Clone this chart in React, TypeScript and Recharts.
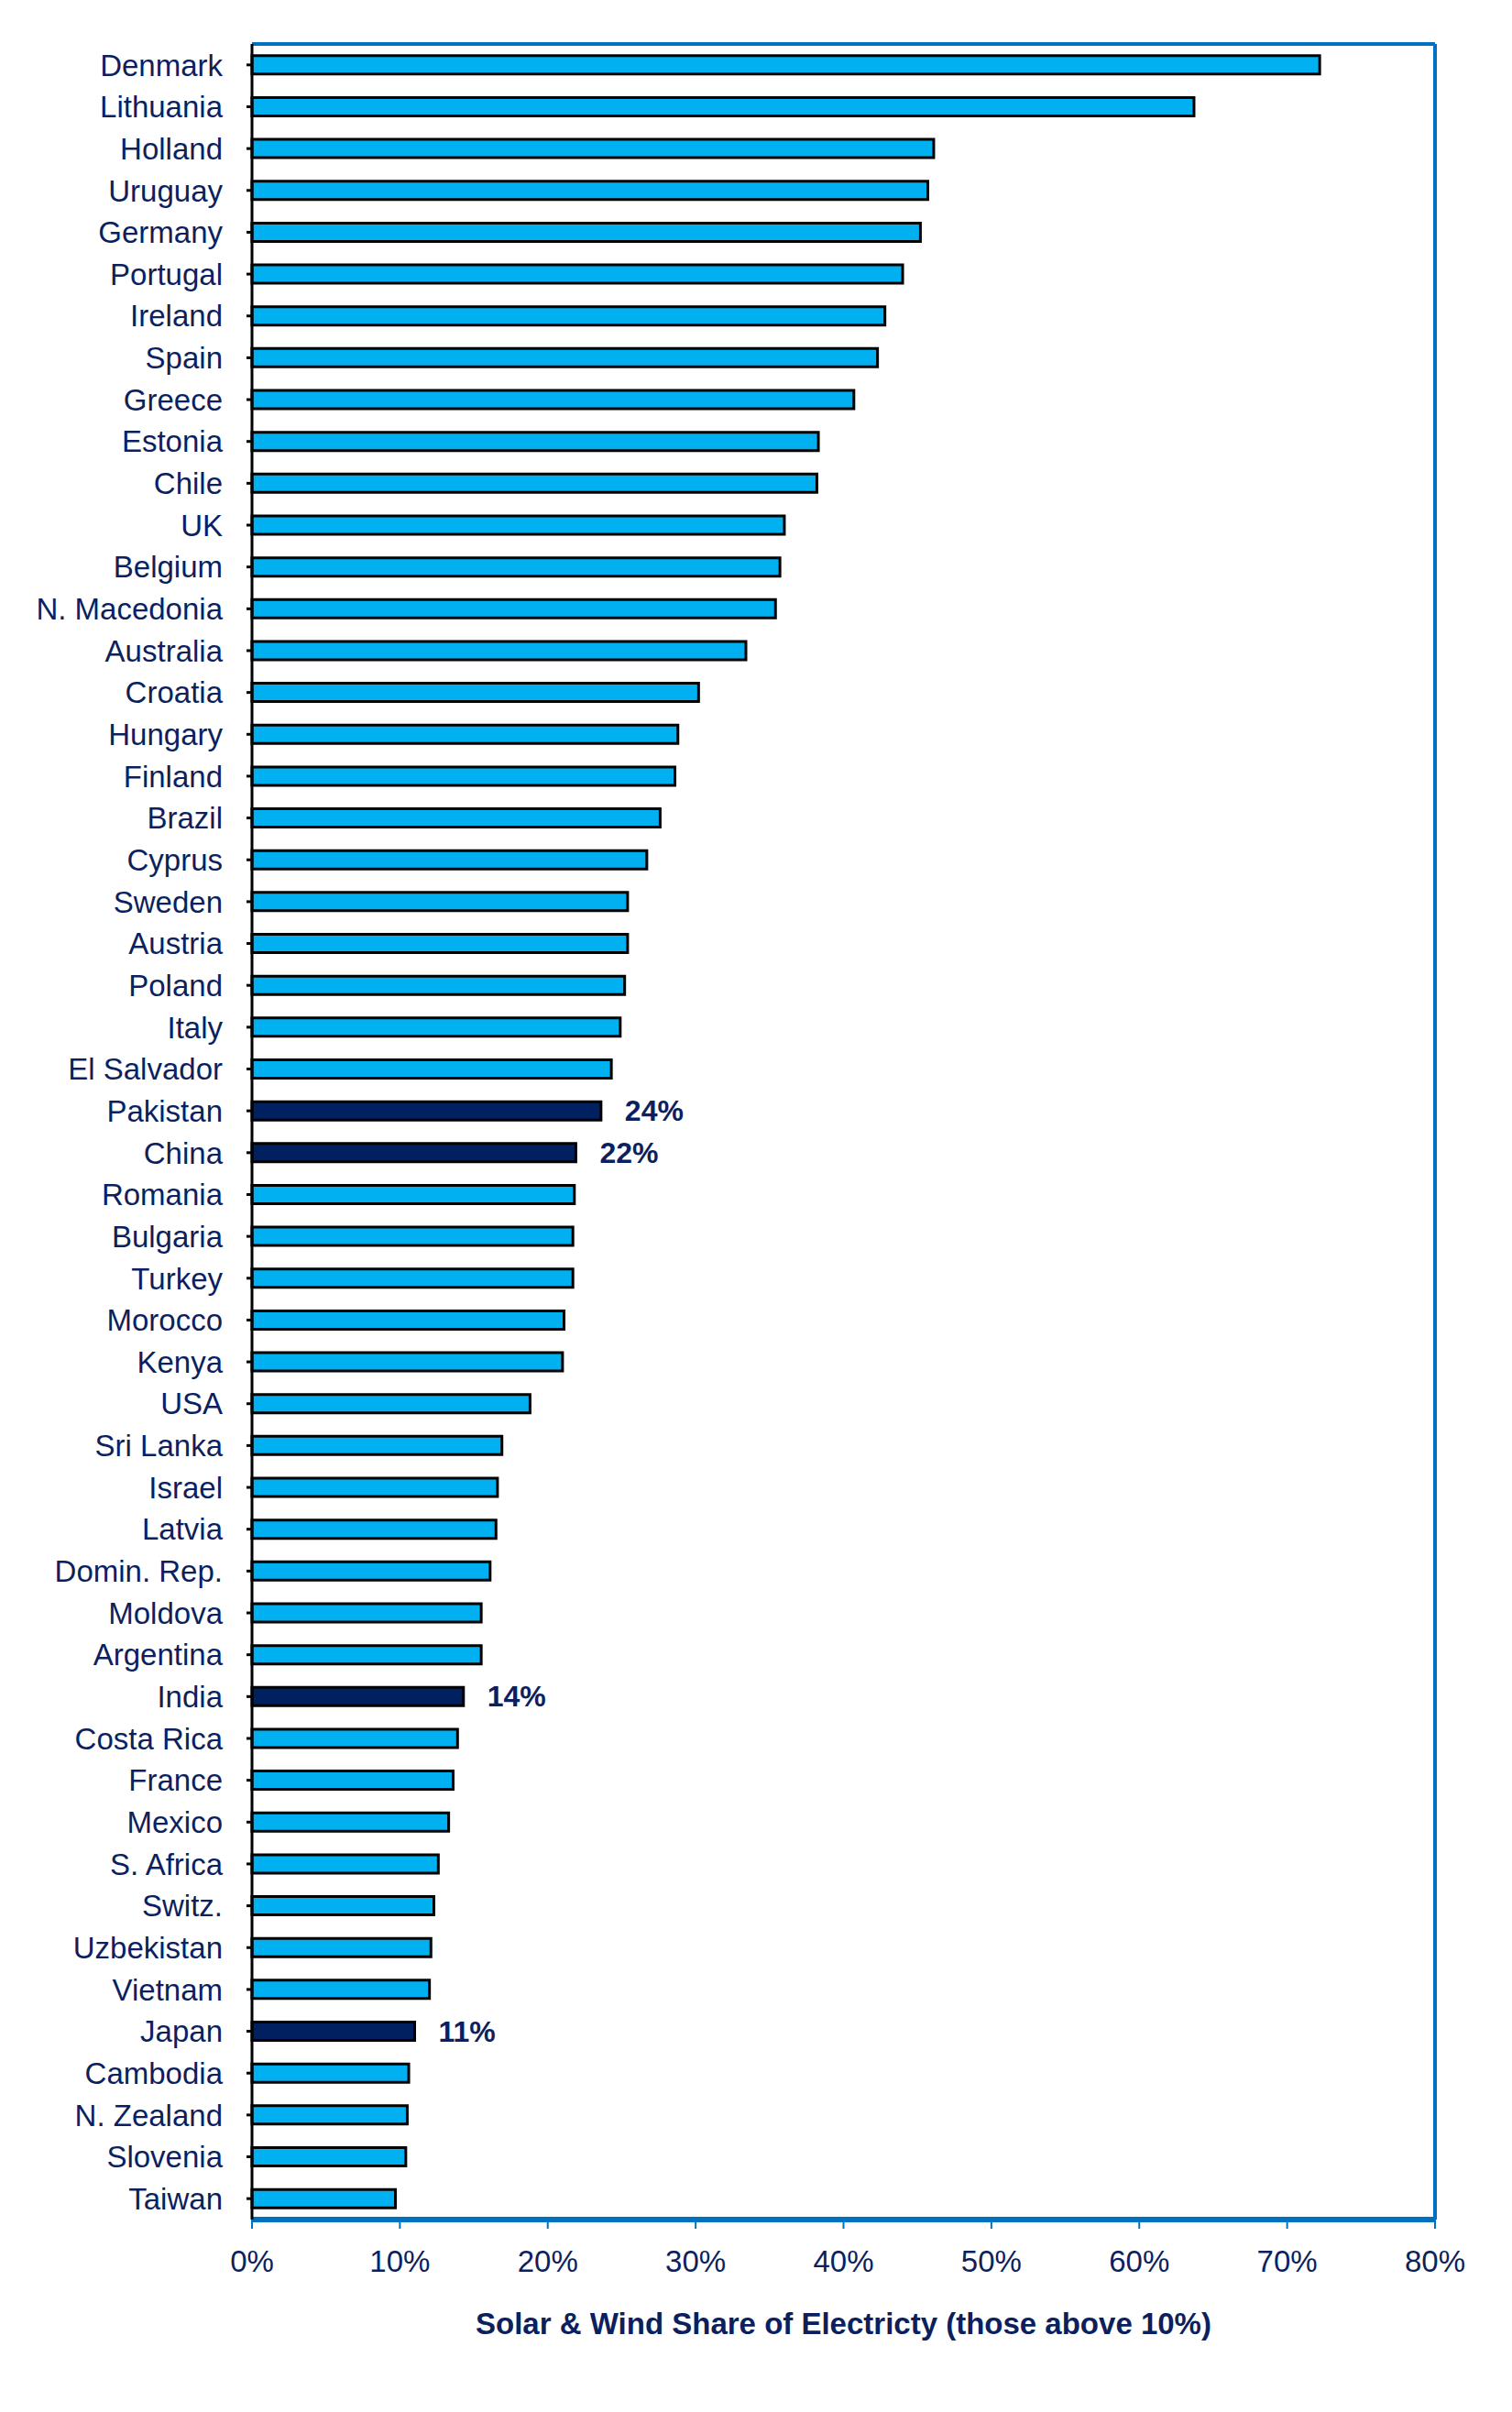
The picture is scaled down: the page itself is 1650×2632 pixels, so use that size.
import { BarChart, Bar, XAxis, YAxis, CartesianGrid, Cell, LabelList } from 'recharts';

const countries = ['Denmark', 'Lithuania', 'Holland', 'Uruguay', 'Germany', 'Portugal', 'Ireland', 'Spain', 'Greece', 'Estonia', 'Chile', 'UK', 'Belgium', 'N. Macedonia', 'Australia', 'Croatia', 'Hungary', 'Finland', 'Brazil', 'Cyprus', 'Sweden', 'Austria', 'Poland', 'Italy', 'El Salvador', 'Pakistan', 'China', 'Romania', 'Bulgaria', 'Turkey', 'Morocco', 'Kenya', 'USA', 'Sri Lanka', 'Israel', 'Latvia', 'Domin. Rep.', 'Moldova', 'Argentina', 'India', 'Costa Rica', 'France', 'Mexico', 'S. Africa', 'Switz.', 'Uzbekistan', 'Vietnam', 'Japan', 'Cambodia', 'N. Zealand', 'Slovenia', 'Taiwan'];
const shares = [72.2, 63.7, 46.1, 45.7, 45.2, 44.0, 42.8, 42.3, 40.7, 38.3, 38.2, 36.0, 35.7, 35.4, 33.4, 30.2, 28.8, 28.6, 27.6, 26.7, 25.4, 25.4, 25.2, 24.9, 24.3, 23.6, 21.9, 21.8, 21.7, 21.7, 21.1, 21.0, 18.8, 16.9, 16.6, 16.5, 16.1, 15.5, 15.5, 14.3, 13.9, 13.6, 13.3, 12.6, 12.3, 12.1, 12.0, 11.0, 10.6, 10.5, 10.4, 9.7];
const highlighted = ['Pakistan', 'China', 'India', 'Japan'];
const xTicks = [0, 10, 20, 30, 40, 50, 60, 70, 80];

const data = countries.map((name, i) => ({ name, value: shares[i], hi: highlighted.includes(name) }));

const NAVY = '#0c1f5e';
const FONT = '"Liberation Sans", Arial, sans-serif';

export default function App() {
  const renderLabel = (p: any) => {
    const d = data[p.index];
    if (!d || !d.hi) return null;
    return (
      <text x={p.x + p.width + 26} y={p.y + p.height / 2} dy={11} fill={NAVY} fontSize={32} fontWeight="bold" fontFamily={FONT}>
        {Math.round(d.value)}%
      </text>
    );
  };
  return (
    <div style={{ position: 'absolute', left: 0, top: 0, width: 1650, height: 2632, background: '#fff' }}>
      <BarChart width={1650} height={2632} data={data} layout="vertical" barCategoryGap="28%"
        margin={{ top: 47, right: 83, bottom: 180, left: 0 }}>
        <CartesianGrid horizontal={false} stroke="#c0c0c0" strokeWidth={1.5} />
        <XAxis type="number" xAxisId="b" domain={[0, 80]} ticks={xTicks} tickFormatter={(v) => v + '%'}
          axisLine={{ stroke: '#0070c0', strokeWidth: 6 }} tickLine={{ stroke: '#0070c0', strokeWidth: 2 }} tickSize={10}
          tick={{ fontSize: 33, fill: NAVY, fontFamily: FONT, dy: 22 }}
          label={{ value: 'Solar & Wind Share of Electricty (those above 10%)', position: 'insideBottom', offset: -95, fontSize: 33, fontWeight: 'bold', fill: NAVY, fontFamily: FONT }} />
        <XAxis type="number" xAxisId="t" orientation="top" domain={[0, 80]} ticks={xTicks} tick={false} tickLine={false}
          axisLine={{ stroke: '#0070c0', strokeWidth: 4 }} height={1} />
        <YAxis type="category" dataKey="name" width={275} interval={0}
          axisLine={{ stroke: '#000', strokeWidth: 3 }} tickLine={{ stroke: '#000', strokeWidth: 3 }} tickSize={6} tickMargin={26}
          tick={{ fontSize: 33, fill: NAVY, fontFamily: FONT }} />
        <YAxis type="category" dataKey="name" yAxisId="r" orientation="right" width={1} tick={false} tickLine={false}
          axisLine={{ stroke: '#0070c0', strokeWidth: 4 }} />
        <Bar dataKey="value" xAxisId="b" stroke="#000" strokeWidth={3} isAnimationActive={false}>
          {data.map((d, i) => <Cell key={i} fill={d.hi ? '#002060' : '#00b0f0'} />)}
          <LabelList dataKey="value" content={renderLabel} />
        </Bar>
      </BarChart>
    </div>
  );
}
